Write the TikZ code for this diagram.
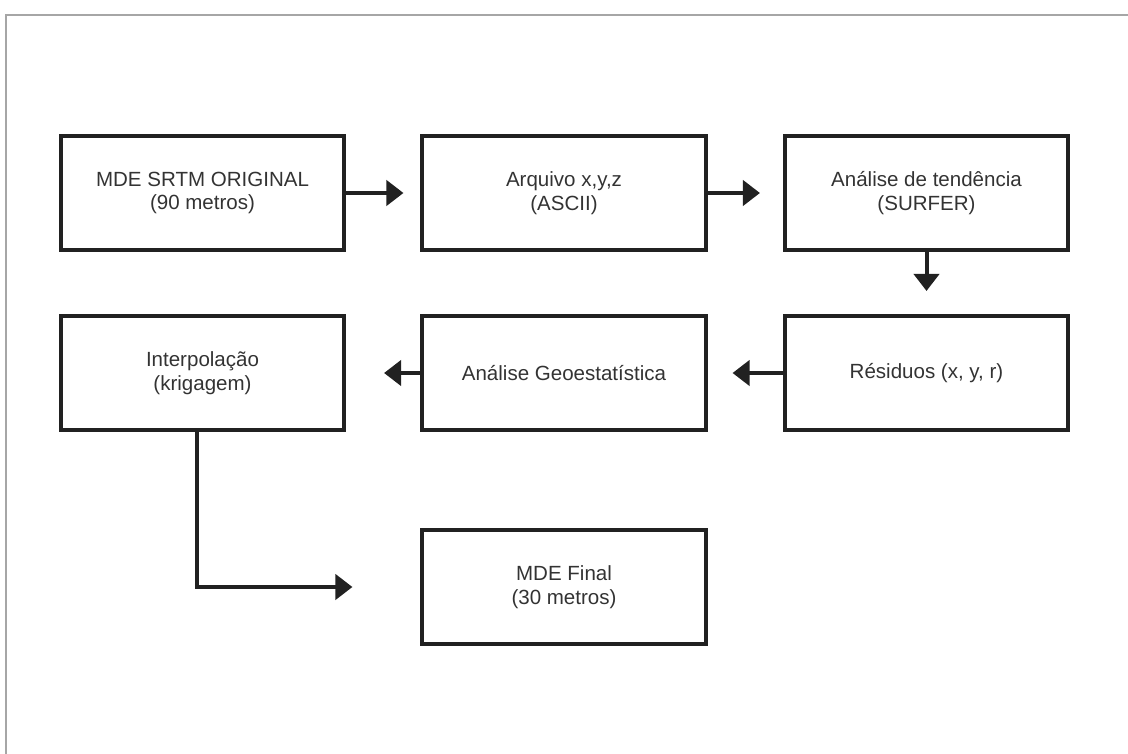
\documentclass[tikz,border=0pt]{standalone}
\usepackage{fontspec}
\setmainfont{Liberation Sans}
\usetikzlibrary{arrows.meta}

\begin{document}
\begin{tikzpicture}[x=0.025cm, y=-0.025cm,
    box/.style={draw=black!87, line width=0.1cm, minimum width=7.075cm, minimum height=2.85cm, inner sep=0pt, align=center, text=black!80, font=\fontsize{14.6}{16.8}\selectfont},
    flow/.style={draw=black!87, line width=0.1cm, -{Triangle[length=0.425cm, width=0.625cm]}}]
    \useasboundingbox (0,0) rectangle (1128,754);
    \draw[black!35, line width=1.2pt] (6,754) -- (6,15) -- (1128,15);
    % first row
    \node[box] at (202.5,193) (srtm) {MDE SRTM ORIGINAL\\(90 metros)};
    \node[box] at (564,193) (xyz) {Arquivo x,y,z\\(ASCII)};
    \node[box] at (926.5,193) (trend) {Análise de tendência\\(SURFER)};
    % second row
    \node[box] at (202.5,373) (krig) {Interpolação\\(krigagem)};
    \node[box] at (564,373) (geo) {Análise Geoestatística};
    \node[box] at (926.5,373) (resid) {Résiduos (x, y, r)};
    \node[box] at (564,587) (final) {MDE Final\\(30 metros)};
    \draw[flow, shorten >=0.425cm] (srtm) -- (xyz);
    \draw[flow, shorten >=0.575cm] (xyz) -- (trend);
    \draw[flow, shorten >=0.575cm] (trend) -- (resid);
    \draw[flow, shorten >=0.625cm] (resid) -- (geo);
    \draw[flow, shorten >=0.95cm] (geo) -- (krig);
    \draw[flow, shorten >=1.7cm] ([xshift=-0.14cm]krig.south) |- (final);
\end{tikzpicture}
\end{document}
